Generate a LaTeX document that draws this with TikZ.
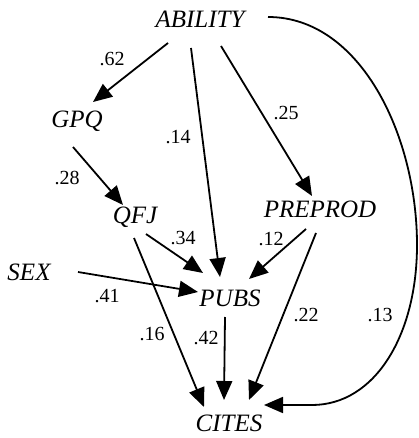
\documentclass[tikz,border=0pt]{standalone}
\usepackage{fontspec}
\setmainfont{Liberation Serif}
\usetikzlibrary{arrows.meta}
\tikzset{
  var/.style={inner sep=0pt, anchor=base, font=\itshape\fontsize{25}{30}\selectfont},
  coef/.style={inner sep=0pt, anchor=center, font=\fontsize{20}{24}\selectfont},
  arr/.style={line width=1.8pt, -{Triangle[length=19pt,width=16pt]}}
}
\begin{document}
\begin{tikzpicture}[x=1pt,y=-1pt]
\useasboundingbox (0,0) rectangle (418,438);
% variables
\node[var] (ABILITY) at (200,28) {ABILITY};
\node[var] (GPQ) at (77,128) {GPQ};
\node[var] (QFJ) at (135,223) {QFJ};
\node[var] (PREPROD) at (320,217) {PREPROD};
\node[var] (SEX) at (29,280) {SEX};
\node[var] (PUBS) at (230,306) {PUBS};
\node[var] (CITES) at (229,431) {CITES};
% coefficients
\node[coef] (c62) at (112,59) {.62};
\node[coef] (c14) at (178,137) {.14};
\node[coef] (c25) at (286,113) {.25};
\node[coef] (c28) at (67,178) {.28};
\node[coef] (c34) at (183,238) {.34};
\node[coef] (c12) at (271,239) {.12};
\node[coef] (c41) at (107,296) {.41};
\node[coef] (c16) at (152,334) {.16};
\node[coef] (c42) at (206,338) {.42};
\node[coef] (c22) at (306,315) {.22};
\node[coef] (c13) at (380,315) {.13};
% connectors
\draw[arr] ([shift={(-32,15)}]ABILITY.base) -- ([shift={(16,-26)}]GPQ.base);
\draw[arr] ([shift={(-9,20)}]ABILITY.base) -- ([shift={(-10,-29)}]PUBS.base);
\draw[arr] ([shift={(21,18)}]ABILITY.base) -- ([shift={(-8,-21)}]PREPROD.base);
\draw[arr] ([shift={(-4,19)}]GPQ.base) -- ([shift={(-12,-18)}]QFJ.base);
\draw[arr] ([shift={(11,11)}]QFJ.base) -- ([shift={(-27,-33)}]PUBS.base);
\draw[arr] ([shift={(-1,15)}]QFJ.base) -- ([shift={(-25,-24)}]CITES.base);
\draw[arr] ([shift={(-14,12)}]PREPROD.base) -- ([shift={(19,-27)}]PUBS.base);
\draw[arr] ([shift={(-4,16)}]PREPROD.base) -- ([shift={(20,-31)}]CITES.base);
\draw[arr] ([shift={(49,-8)}]SEX.base) -- ([shift={(-32,-14)}]PUBS.base);
\draw[arr] ([shift={(-5,11)}]PUBS.base) -- ([shift={(-5,-31)}]CITES.base);
\draw[arr] ([shift={(68,-11)}]ABILITY.base)
  .. controls (360,17) and (417,135) .. (417,245)
  .. controls (417,335) and (375,405) .. (312,405)
  -- ([shift={(35,-26)}]CITES.base);
\end{tikzpicture}
\end{document}
